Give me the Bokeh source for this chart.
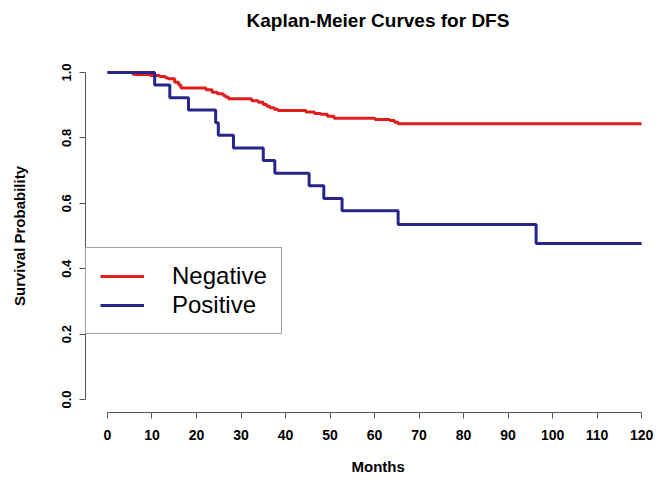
from bokeh.plotting import figure
from bokeh.models import Range1d, FixedTicker, Legend, LegendItem, PrintfTickFormatter, Title
from bokeh.embed import file_html
from bokeh.resources import INLINE

# ---- data -------------------------------------------------------------
title_text = "Kaplan-Meier Curves for DFS"
x_label = "Months"
y_label = "Survival Probability"
x_ticks = [0, 10, 20, 30, 40, 50, 60, 70, 80, 90, 100, 110, 120]
y_ticks = [0.0, 0.2, 0.4, 0.6, 0.8, 1.0]
follow_up_end = 120

series_names = ["Negative", "Positive"]

neg_months = [0, 5.8, 9.5, 11.7, 13.0, 13.6, 15.1, 16.0, 16.5, 22.1, 23.5, 24.7,
              26.0, 26.5, 27.2, 32.4, 33.9, 35.0, 35.8, 36.5, 37.5, 38.3, 44.6,
              46.5, 47.9, 49.4, 50.9, 60.1, 63.4, 64.5, 65.3]
neg_surv = [1.0, 0.994, 0.991, 0.988, 0.984, 0.981, 0.970, 0.962, 0.953, 0.947,
            0.940, 0.935, 0.930, 0.925, 0.920, 0.914, 0.909, 0.902, 0.897, 0.892,
            0.888, 0.884, 0.879, 0.875, 0.872, 0.866, 0.860, 0.856, 0.853, 0.848,
            0.843]

pos_months = [0, 10.6, 14.0, 18.2, 24.3, 24.9, 28.3, 35.0, 37.6, 45.3, 48.6,
              52.7, 65.3, 96.3]
pos_surv = [1.0, 0.962, 0.923, 0.885, 0.846, 0.808, 0.769, 0.731, 0.692, 0.654,
            0.615, 0.577, 0.535, 0.477]

neg_color = "#e01c1c"
pos_color = "#25258c"
axis_color = "#555555"
font = "Liberation Sans"

# ---- figure -----------------------------------------------------------
p = figure(width=654, height=475, output_backend="svg", toolbar_location=None,
           x_range=Range1d(-4.94, 122.9), y_range=Range1d(-0.0398, 1.0398),
           min_border_left=85, min_border_right=0, min_border_top=59,
           min_border_bottom=63)
p.outline_line_color = None
p.xgrid.visible = False
p.ygrid.visible = False
p.background_fill_color = "white"
p.border_fill_color = "white"

r_neg = p.step(x=neg_months + [follow_up_end], y=neg_surv + [neg_surv[-1]],
               mode="after", line_color=neg_color, line_width=3)
r_pos = p.step(x=pos_months + [follow_up_end], y=pos_surv + [pos_surv[-1]],
               mode="after", line_color=pos_color, line_width=3)

for ax in (p.xaxis[0], p.yaxis[0]):
    ax.axis_line_color = axis_color
    ax.major_tick_line_color = axis_color
    ax.major_tick_in = 0
    ax.major_tick_out = 6
    ax.minor_tick_out = 0
    ax.minor_tick_in = 0
    ax.major_label_text_font = font
    ax.major_label_text_font_style = "bold"
    ax.major_label_text_color = "black"

xa = p.xaxis[0]
xa.bounds = (x_ticks[0], x_ticks[-1])
xa.ticker = FixedTicker(ticks=x_ticks)
xa.major_label_text_font_size = "14px"
xa.major_label_standoff = 11

ya = p.yaxis[0]
ya.bounds = (y_ticks[0], y_ticks[-1])
ya.ticker = FixedTicker(ticks=y_ticks)
ya.formatter = PrintfTickFormatter(format="%.1f")
ya.major_label_text_font_size = "13px"
ya.major_label_orientation = "parallel"
ya.major_label_standoff = 8
ya.axis_label = y_label
ya.axis_label_text_font = font
ya.axis_label_text_font_style = "bold"
ya.axis_label_text_font_size = "15px"
ya.axis_label_text_color = "black"
ya.axis_label_standoff = 32

legend = Legend(items=[LegendItem(label=series_names[0], renderers=[r_neg]),
                       LegendItem(label=series_names[1], renderers=[r_pos])],
                location=(0, 78), margin=0, padding=14, spacing=1,
                glyph_width=44, glyph_height=28, label_height=28,
                label_standoff=28, label_text_font=font,
                label_text_font_size="24px", label_text_color="black",
                border_line_color="#444444", border_line_width=1,
                background_fill_color="white", background_fill_alpha=1.0)
p.add_layout(legend)

# spacer above the frame, then the main title further out
p.add_layout(Title(text=" ", text_font_size="1px", standoff=20), "above")
p.add_layout(Title(text=title_text, align="left", offset=161, standoff=12,
                   text_font=font, text_font_style="bold", text_font_size="19px",
                   text_color="black"), "above")

# spacer below the axis, then the x-axis title
p.add_layout(Title(text=" ", text_font_size="1px", standoff=10), "below")
p.add_layout(Title(text=x_label, align="left", offset=266, standoff=0,
                   text_font=font, text_font_style="bold", text_font_size="15px",
                   text_color="black"), "below")

open("out.html", "w").write(file_html(p, INLINE))
